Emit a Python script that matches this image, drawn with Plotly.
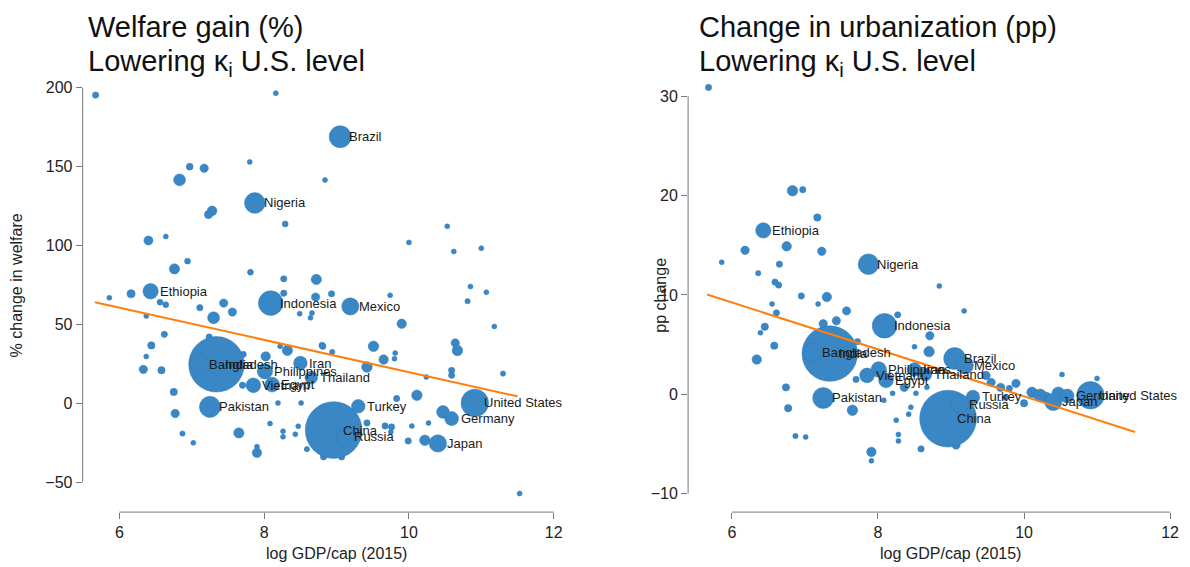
import plotly.graph_objects as go

# ---- Left panel: welfare gain (%) vs log GDP per capita ----
lab_names = ["Brazil", "Nigeria", "Ethiopia", "Indonesia", "Mexico", "India", "Bangladesh",
             "Iran", "Philippines", "Thailand", "Vietnam", "Egypt", "Pakistan", "Turkey",
             "China", "Russia", "United States", "Germany", "Japan"]
lab_gdp = [9.05, 7.87, 6.43, 8.09, 9.19, 7.34, 7.11, 8.50, 8.01, 8.65, 7.85, 8.11, 7.25,
           9.30, 8.96, 9.12, 10.91, 10.59, 10.40]
lab_pop = [205, 181, 100, 258, 125, 1310, 161, 79, 101, 68, 92, 92, 189, 78, 1371, 144,
           321, 82, 127]
lab_welfare = [169, 127, 71, 63.5, 61.4, 24.7, 24.7, 25.5, 20.3, 16.3, 11.4, 11.8, -2.3,
               -1.9, -17, -21.3, 0.2, -9.7, -25.5]
lab_urban = [3.6, 13.1, 16.5, 6.9, 2.9, 4.1, 4.2, 2.5, 2.5, 2.0, 1.9, 1.4, -0.37,
             -0.27, -2.45, -1.0, -0.1, -0.17, -0.77]

other_gdp_w = [5.67, 8.16, 7.80, 8.84, 6.97, 7.17, 6.83, 7.28, 7.23, 8.29, 6.40, 6.64, 6.76,
               6.94, 7.81, 8.27, 8.72, 10.53, 10.0, 10.62, 11.0, 6.16, 5.86, 6.56, 6.64,
               6.37, 7.11, 7.30, 7.44, 7.56, 8.27, 8.71, 8.49, 8.64, 6.62, 6.44, 6.37, 6.33,
               6.58, 6.75, 6.77, 6.87, 7.02, 7.24, 7.65, 7.90, 7.90, 8.08, 8.19, 8.51, 8.26,
               8.26, 8.43, 8.47, 8.59, 8.82, 8.32, 8.22, 8.02, 7.70, 7.71, 8.80, 8.93, 9.74,
               8.66, 10.85, 11.07, 10.81, 9.90, 11.18, 9.51, 8.81, 8.94, 9.81, 9.65, 9.80,
               10.64, 10.67, 10.59, 10.59, 11.30, 9.42, 10.24, 10.11, 9.83, 10.47, 10.27,
               10.04, 9.76, 9.67, 9.75, 9.42, 9.99, 10.22, 9.07, 11.53]
other_welfare = [195.4, 196.6, 153, 141.6, 150, 149, 141.6, 122, 119.6, 113.7, 103.2, 105.7,
                 85.2, 90.1, 83.1, 78.9, 78.5, 112.2, 102, 96.2, 98.3, 69.4, 66.9, 64.1,
                 62.5, 55.3, 60.6, 54.2, 63.5, 57.8, 69.8, 67.3, 56.8, 54.2, 43.7, 36.7,
                 29.7, 21.5, 20.9, 7.2, -6.5, -19.2, -25.1, 42.0, -18.8, -31.4, -27.5,
                 -12.9, 0.2, 0.2, -17.7, -21.3, -19.6, -14.6, -29.1, -34, 33.5, 36.1, 29.7,
                 11.4, 31, 36.7, 69.4, 68.4, 57.2, 74, 70.4, 64.7, 50.4, 48.7, 36.1, 36.1,
                 32.5, 31.8, 27.7, 28.3, 38.2, 33.5, 20.9, 17.7, 18.8, 23, 16.6, 5.1, 3.0,
                 -5.5, -12.5, -14.4, -15, -14.4, -18.2, -12.5, -23.9, -23.4, -34, -57.2]
other_pop_w = [17, 3, 5, 3, 20, 30, 60, 40, 28, 15, 35, 10, 45, 15, 15, 17, 45, 10, 4, 10, 6,
               28, 8, 15, 15, 10, 17, 60, 30, 30, 17, 30, 3, 3, 17, 23, 5, 30, 23, 23, 30,
               12, 8, 17, 45, 38, 7, 4, 4, 4, 7, 7, 4, 4, 12, 17, 45, 7, 38, 17, 17, 17, 17,
               3, 7, 7, 4, 12, 38, 7, 47, 17, 12, 7, 38, 3, 30, 47, 17, 17, 12, 47, 3, 47,
               17, 68, 3, 3, 17, 17, 7, 17, 17, 47, 17, 3]

# ---- Right panel: change in urbanization (pp) ----
other_gdp_u = [5.68, 6.83, 6.97, 7.17, 6.18, 6.75, 7.23, 5.86, 6.65, 6.36, 6.59, 6.64, 7.30,
               6.95, 7.18, 6.55, 6.61, 7.57, 8.27, 8.84, 6.45, 6.39, 6.58, 6.34, 7.25, 7.43,
               7.72, 7.70, 8.71, 8.70, 8.50, 8.36, 8.67, 8.52, 8.20, 6.74, 8.08, 6.77, 7.65,
               8.45, 8.42, 8.25, 8.28, 8.28, 6.87, 7.01, 7.91, 7.91, 8.59, 9.18, 9.48, 9.55,
               9.68, 9.89, 9.80, 10.11, 10.0, 9.75, 10.30, 10.22, 10.47, 10.52, 11.0, 9.07]
other_urban = [30.9, 20.5, 20.6, 17.8, 14.5, 14.9, 14.4, 13.3, 13.1, 12.2, 11.3, 11.0, 9.8,
               9.9, 9.1, 9.1, 8.2, 8.4, 8.0, 10.9, 6.8, 6.2, 4.9, 3.5, 7.1, 7.4, 5.3, 1.5,
               5.9, 4.3, 4.8, 0.7, 0.7, 0.1, 0.1, 0.7, -0.6, -1.4, -1.6, -1.3, -2.0, -2.6,
               -4.05, -4.7, -4.2, -4.3, -5.8, -6.7, -5.5, 8.4, 1.9, 1.2, 0.7, 1.1, 0.6, 0.2,
               -0.9, -0.3, -0.3, -0.1, 0.1, 2.0, 1.6, -5.1]
other_pop_u = [17, 47, 17, 23, 30, 38, 30, 7, 17, 12, 17, 17, 38, 17, 4, 7, 17, 30, 17, 3,
               23, 4, 23, 38, 30, 30, 17, 17, 30, 47, 4, 30, 7, 4, 4, 23, 4, 23, 47, 4, 4, 4,
               4, 4, 12, 7, 38, 7, 17, 3, 30, 30, 30, 30, 17, 47, 23, 17, 47, 68, 68, 7, 7, 30]

# Fitted regression lines (endpoints of the linear fit)
fit_gdp_w = [5.66, 11.50]
fit_welfare = [64.1, 4.4]
fit_gdp_u = [5.66, 11.52]
fit_urban = [10.05, -3.79]

BLUE = "#3a87c6"
EDGE = "#2f78b8"
ORANGE = "#ff7f0e"
FONT = "Liberation Sans, Arial, Helvetica, sans-serif"
SIZEREF = 0.85  # marker area proportional to population

fig = go.Figure()


def bubbles(xs, ys, pops, xa, ya):
    fig.add_trace(go.Scatter(
        x=xs, y=ys, mode="markers", xaxis=xa, yaxis=ya, showlegend=False,
        marker=dict(size=pops, sizemode="area", sizeref=SIZEREF, sizemin=2.5,
                    color=BLUE, opacity=1, line=dict(color=EDGE, width=0.5)),
        hoverinfo="skip"))


bubbles(other_gdp_w + lab_gdp, other_welfare + lab_welfare, other_pop_w + lab_pop, "x", "y")
bubbles(other_gdp_u + lab_gdp, other_urban + lab_urban, other_pop_u + lab_pop, "x2", "y2")

fig.add_trace(go.Scatter(x=fit_gdp_w, y=fit_welfare, mode="lines", xaxis="x", yaxis="y",
                         line=dict(color=ORANGE, width=2), showlegend=False))
fig.add_trace(go.Scatter(x=fit_gdp_u, y=fit_urban, mode="lines", xaxis="x2", yaxis="y2",
                         line=dict(color=ORANGE, width=2), showlegend=False))

annotations = []
for name, gx, wv, uv in zip(lab_names, lab_gdp, lab_welfare, lab_urban):
    for xr, yr, yv in (("x", "y", wv), ("x2", "y2", uv)):
        annotations.append(dict(x=gx, y=yv, xref=xr, yref=yr, text=name, showarrow=False,
                                xanchor="left", yanchor="middle", xshift=7,
                                font=dict(family=FONT, size=13, color="#1a1a1a")))

H = 567.0
W = 1190.0


def py(px):
    return 1 - px / H


def title(x_px, y_px, text):
    annotations.append(dict(x=x_px / W, y=py(y_px), xref="paper", yref="paper", text=text,
                            showarrow=False, xanchor="left", yanchor="middle",
                            font=dict(family=FONT, size=29, color="#111")))


title(86, 26, "Welfare gain (%)")
title(86, 62, "Lowering κ<sub>i</sub> U.S. level")
title(700, 26, "Change in urbanization (pp)")
title(700, 62, "Lowering κ<sub>i</sub> U.S. level")

# axis titles
for x_px, y_px, text, ang in ((338, 553, "log GDP/cap (2015)", 0),
                              (955, 553, "log GDP/cap (2015)", 0),
                              (17, 285, "% change in welfare", -90),
                              (663, 295, "pp change", -90)):
    annotations.append(dict(x=x_px / W, y=py(y_px), xref="paper", yref="paper", text=text,
                            showarrow=False, textangle=ang, xanchor="center",
                            yanchor="middle",
                            font=dict(family=FONT, size=16, color="#222")))

# axis lines spanning only the tick range
AX = "#777"
shapes = [
    dict(type="line", xref="x domain", yref="y", x0=0, x1=0, y0=-50, y1=200,
         line=dict(color=AX, width=1)),
    dict(type="line", xref="x", yref="y domain", x0=6, x1=12, y0=0, y1=0,
         line=dict(color=AX, width=1)),
    dict(type="line", xref="x2 domain", yref="y2", x0=0, x1=0, y0=-10, y1=30,
         line=dict(color=AX, width=1)),
    dict(type="line", xref="x2", yref="y2 domain", x0=6, x1=12, y0=0, y1=0,
         line=dict(color=AX, width=1)),
]

axis_common = dict(showgrid=False, zeroline=False, showline=False, ticks="outside",
                   ticklen=6, tickcolor=AX, tickwidth=1,
                   tickfont=dict(family=FONT, size=16, color="#222"))

fig.update_layout(
    width=1190, height=567, margin=dict(l=0, r=0, t=0, b=0),
    paper_bgcolor="white", plot_bgcolor="white",
    xaxis=dict(domain=[83 / W, 560 / W], range=[5.491, 12.055], tickvals=[6, 8, 10, 12],
               anchor="y", **axis_common),
    yaxis=dict(domain=[py(512), py(80)], range=[-69.0, 204.4],
               tickvals=[-50, 0, 50, 100, 150, 200], anchor="x", **axis_common),
    xaxis2=dict(domain=[691 / W, 1180 / W], range=[5.40, 12.068], tickvals=[6, 8, 10, 12],
                anchor="y2", **axis_common),
    yaxis2=dict(domain=[py(512), py(80)], range=[-11.86, 31.56],
                tickvals=[-10, 0, 10, 20, 30], anchor="x2", **axis_common),
    annotations=annotations, shapes=shapes,
)

fig.write_html("out.html")
